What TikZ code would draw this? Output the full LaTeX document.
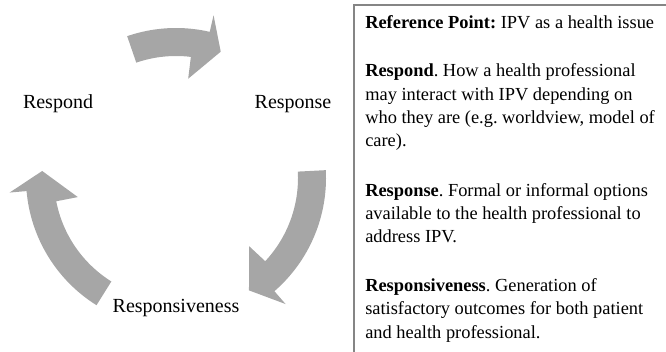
\documentclass[tikz,border=0pt]{standalone}
\usepackage{fontspec}
\setmainfont{Liberation Serif}
\usepackage{tikz}
\usetikzlibrary{calc}
\definecolor{arrowgray}{HTML}{A6A6A6}
\definecolor{framegray}{HTML}{858585}
\tikzset{cyclearrow/.style={fill=arrowgray, draw=none}}
\tikzset{stagelabel/.style={anchor=base, inner sep=0pt, font=\fontsize{15}{17}\selectfont}}
\tikzset{notetext/.style={anchor=base west, inner sep=0pt, align=left, font=\fontsize{13.8}{17.6}\selectfont\frenchspacing}}

\begin{document}
\begin{tikzpicture}[x=0.75pt,y=0.75pt]
  \useasboundingbox (0,-352) rectangle (666,0);
  % cycle arrows: tail angle / head base / tip
  \begin{scope}[shift={(176,-178)}]
    \foreach \a/\b/\c in {
      109/80/70.5,
      3/-46/-57,
      238/188/177%
    } {
      \pgfmathsetmacro{\bo}{\b-3}
      \pgfmathsetmacro{\bi}{\b+3}
      \fill[cyclearrow] (\a:150) arc[start angle=\a, end angle=\bo, radius=150]
        -- (\bo:167) -- (\c:134) -- (\bi:100) -- (\bi:122)
        arc[start angle=\bi, end angle=\a, radius=122] -- cycle;
    }
  \end{scope}
  \node[stagelabel] (respond) at (58,-109) {Respond};
  \node[stagelabel] (response) at (293,-109) {Response};
  \node[stagelabel] (responsiveness) at (176,-312) {Responsiveness};
  % key box (base = last line)
  \draw[framegray, line width=1.5pt] (354,-5) rectangle (672,-360);
  \node[notetext] (refpoint) at (365,-29) {\textbf{Reference Point:} IPV as a health issue};
  \node[notetext] (respondnote) at (365,-147) {\textbf{Respond}. How a health professional\\
    may interact with IPV depending on\\ who they are (e.g. worldview, model of\\ care).};
  \node[notetext] (responsenote) at (365,-243) {\textbf{Response}. Formal or informal options\\
    available to the health professional to\\ address IPV.};
  \node[notetext] (responsivenote) at (365,-338) {\textbf{Responsiveness}. Generation of\\
    satisfactory outcomes for both patient\\ and health professional.};
\end{tikzpicture}
\end{document}
